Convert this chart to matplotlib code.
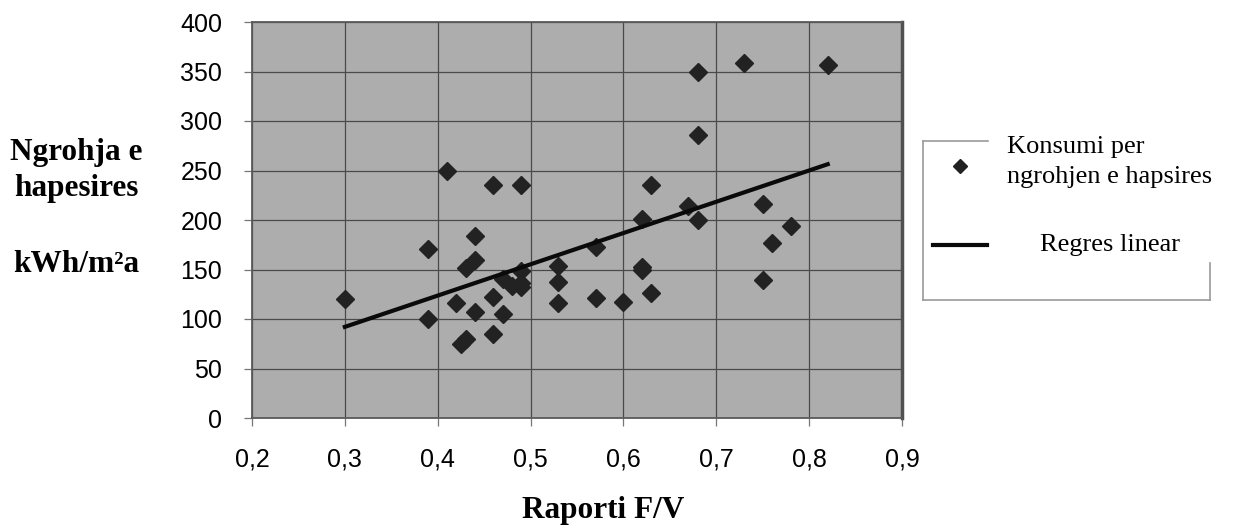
import numpy as np
import matplotlib
matplotlib.use("Agg")
import matplotlib.pyplot as plt
from matplotlib.lines import Line2D

# ---- data ----
ratio_fv = [0.30, 0.39, 0.39, 0.41, 0.46, 0.49, 0.44, 0.44, 0.43, 0.42,
            0.44, 0.425, 0.43, 0.46, 0.46, 0.47, 0.47, 0.48, 0.49, 0.49,
            0.49, 0.53, 0.53, 0.53, 0.57, 0.57, 0.60, 0.62, 0.62, 0.62,
            0.63, 0.63, 0.67, 0.68, 0.68, 0.68, 0.73, 0.75, 0.75, 0.76,
            0.78, 0.82]
heating = [120, 171, 100, 250, 235, 235, 184, 160, 152, 116,
           107, 75, 80, 122, 85, 140, 105, 133, 136, 148,
           132, 154, 137, 116, 173, 121, 117, 201, 153, 149,
           235, 126, 214, 200, 350, 286, 359, 216, 139, 177,
           194, 357]
x_ticks = [0.2, 0.3, 0.4, 0.5, 0.6, 0.7, 0.8, 0.9]
x_tick_labels = ["0,2", "0,3", "0,4", "0,5", "0,6", "0,7", "0,8", "0,9"]
y_ticks = [0, 50, 100, 150, 200, 250, 300, 350, 400]
series_label_lines = ["Konsumi per", "ngrohjen e hapsires"]
trend_label = "Regres linear"

W, H = 1247, 527
fig = plt.figure(figsize=(W / 100, H / 100), dpi=100)
ax = fig.add_axes([252 / W, 1 - 418 / H, 650 / W, 396 / H])
ax.set_facecolor("#adadad")

ax.set_xlim(0.2, 0.9)
ax.set_ylim(0, 400)
ax.set_xticks(x_ticks)
ax.set_xticklabels(x_tick_labels)
ax.set_yticks(y_ticks)
ax.grid(True, color="#4a4a4a", linewidth=0.9)
ax.set_axisbelow(True)
for s in ax.spines.values():
    s.set_color("#5a5a5a")
    s.set_linewidth(1.3)
ax.spines["right"].set_color("#505050")
ax.spines["right"].set_linewidth(2.5)

ax.tick_params(axis="both", length=6, width=0.9, color="#777777",
               labelsize=18, labelcolor="#000000")
ax.tick_params(axis="y", pad=15.5)
ax.tick_params(axis="x", pad=15.5)
for lab in ax.get_xticklabels() + ax.get_yticklabels():
    lab.set_family(["Liberation Sans", "DejaVu Sans"])

x = np.array(ratio_fv)
y = np.array(heating)
ax.plot(x, y, linestyle="none", marker="D", markersize=9,
        color="#222222", zorder=3)

k, b = np.polyfit(x, y, 1)
xl = np.array([x.min(), x.max()])
ax.plot(xl, k * xl + b, color="#0a0a0a", linewidth=3, zorder=4)

serif = ["Liberation Serif", "DejaVu Serif"]
# y label
fig.text(76 / W, 1 - 160 / H, "Ngrohja e", ha="center", va="baseline",
         fontsize=22.5, fontweight="bold", family=serif)
fig.text(76 / W, 1 - 196 / H, "hapesires", ha="center", va="baseline",
         fontsize=22.5, fontweight="bold", family=serif)
fig.text(76 / W, 1 - 272 / H, "kWh/m²a", ha="center", va="baseline",
         fontsize=22.5, fontweight="bold", family=serif)
# x label
fig.text(603 / W, 1 - 518 / H, "Raporti F/V", ha="center", va="baseline",
         fontsize=22.5, fontweight="bold", family=serif)

# legend frame
lc = "#9a9a9a"
fig.add_artist(Line2D([923 / W, 923 / W], [1 - 141 / H, 1 - 300 / H], color=lc, lw=1.2))
fig.add_artist(Line2D([923 / W, 1210 / W], [1 - 300 / H, 1 - 300 / H], color=lc, lw=1.2))
fig.add_artist(Line2D([1210 / W, 1210 / W], [1 - 263 / H, 1 - 300 / H], color=lc, lw=1.2))
fig.add_artist(Line2D([923 / W, 988 / W], [1 - 141 / H, 1 - 141 / H], color=lc, lw=1.2))
fig.add_artist(Line2D([960 / W], [1 - 166 / H], marker="D", markersize=7.5,
                      color="#222222", linestyle="none"))
fig.add_artist(Line2D([933 / W, 987 / W], [1 - 245 / H, 1 - 245 / H],
                      color="#0a0a0a", lw=3))
fig.text(1007 / W, 1 - 153 / H, series_label_lines[0], ha="left", va="baseline",
         fontsize=19, family=serif)
fig.text(1007 / W, 1 - 183 / H, series_label_lines[1], ha="left", va="baseline",
         fontsize=19, family=serif)
fig.text(1110 / W, 1 - 245 / H, trend_label, ha="center", va="center",
         fontsize=19, family=serif)

fig.savefig("out.png", dpi=100)
